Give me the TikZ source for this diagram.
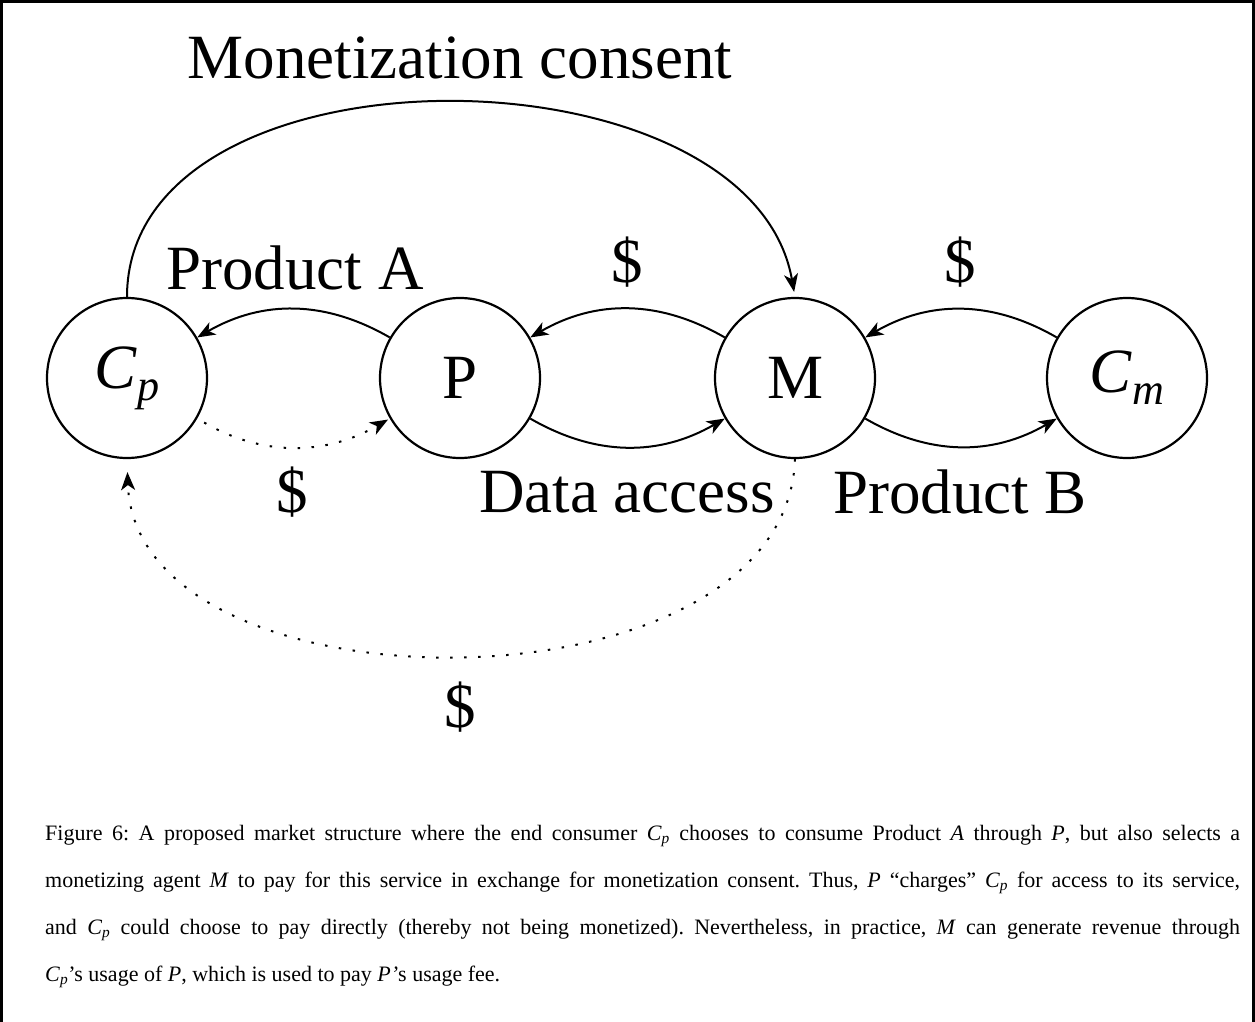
\documentclass[tikz,border=0pt]{standalone}
\usepackage{fontspec}
\setmainfont{Liberation Serif}
\usetikzlibrary{arrows.meta}

\newcommand{\biglabel}{\fontsize{63}{70}\selectfont}
\newcommand{\cpsym}{\textit{C}\textsubscript{\textit{p}}}
\newcommand{\cmsym}{\textit{C}\textsubscript{\textit{m}}}

\tikzstyle{agent} = [circle, draw, line width=2.2pt, minimum size=160pt, inner sep=0pt, font=\biglabel]
\tikzstyle{lbl} = [font=\biglabel, inner sep=0pt]
\tikzstyle{flow} = [line width=2pt, -{Stealth[length=18pt,width=14pt,inset=5pt]}]
\tikzstyle{cash} = [flow, dash pattern=on 2.5pt off 11.5pt]

\begin{document}
\frenchspacing
\begin{tikzpicture}[x=1pt,y=1pt]
\useasboundingbox (0,0) rectangle (1255,-1022);
% frame
\draw[line width=3pt] (1.5,-1022) -- (1.5,-1.5) -- (1253.5,-1.5) -- (1253.5,-1022);

% the four parties
\node[agent] (Cp) at (127,-378) {\cpsym};
\node[agent] (P) at (460,-378) {P};
\node[agent] (M) at (795,-378) {M};
\node[agent] (Cm) at (1127,-378) {\cmsym};

% products, data and payments
\draw[flow] (P) to[bend right=30] (Cp);
\draw[flow] (M) to[bend right=30] (P);
\draw[flow] (Cm) to[bend right=30] (M);
\draw[flow] (P) to[bend right=30] (M);
\draw[flow] (M) to[bend right=30] (Cm);
\draw[cash, shorten <=8pt, shorten >=2pt] (Cp) to[bend right=30] (P);

% consent and the long payment
\draw[flow, shorten >=5pt] (Cp.north) to[out=90,in=100] (M.north);
\draw[cash, shorten >=13pt] (M.south) to[out=-92,in=-88] (Cp.south);

\node[lbl] (consent) at (460,-58) {Monetization consent};
\node[lbl] (prodA) at (295,-268) {Product A};
\node[lbl] (payPM) at (627,-262) {\$};
\node[lbl] (payMCm) at (960,-262) {\$};
\node[lbl] (payCpP) at (292,-492) {\$};
\node[lbl] (data) at (627,-492) {Data access};
\node[lbl] (prodB) at (960,-492) {Product B};
\node[lbl] (payMCp) at (460,-707) {\$};

% caption
\node[anchor=base west, inner sep=0pt, text width=1195pt, align=justify,
      font=\fontsize{22}{47}\selectfont] (caption) at (45,-840)
{Figure 6: A proposed market structure where the end consumer \cpsym{} chooses to consume Product \textit{A} through \textit{P}, but also selects a\linebreak
monetizing agent \textit{M} to pay for this service in exchange for monetization consent. Thus\textit{,} \textit{P} “charges” \cpsym{} for access to its service,\linebreak
and \cpsym{} could choose to pay directly (thereby not being monetized). Nevertheless, in practice, \textit{M} can generate revenue through\linebreak
\cpsym’s usage of \textit{P}, which is used to pay \textit{P’}s usage fee.};
\end{tikzpicture}
\end{document}
